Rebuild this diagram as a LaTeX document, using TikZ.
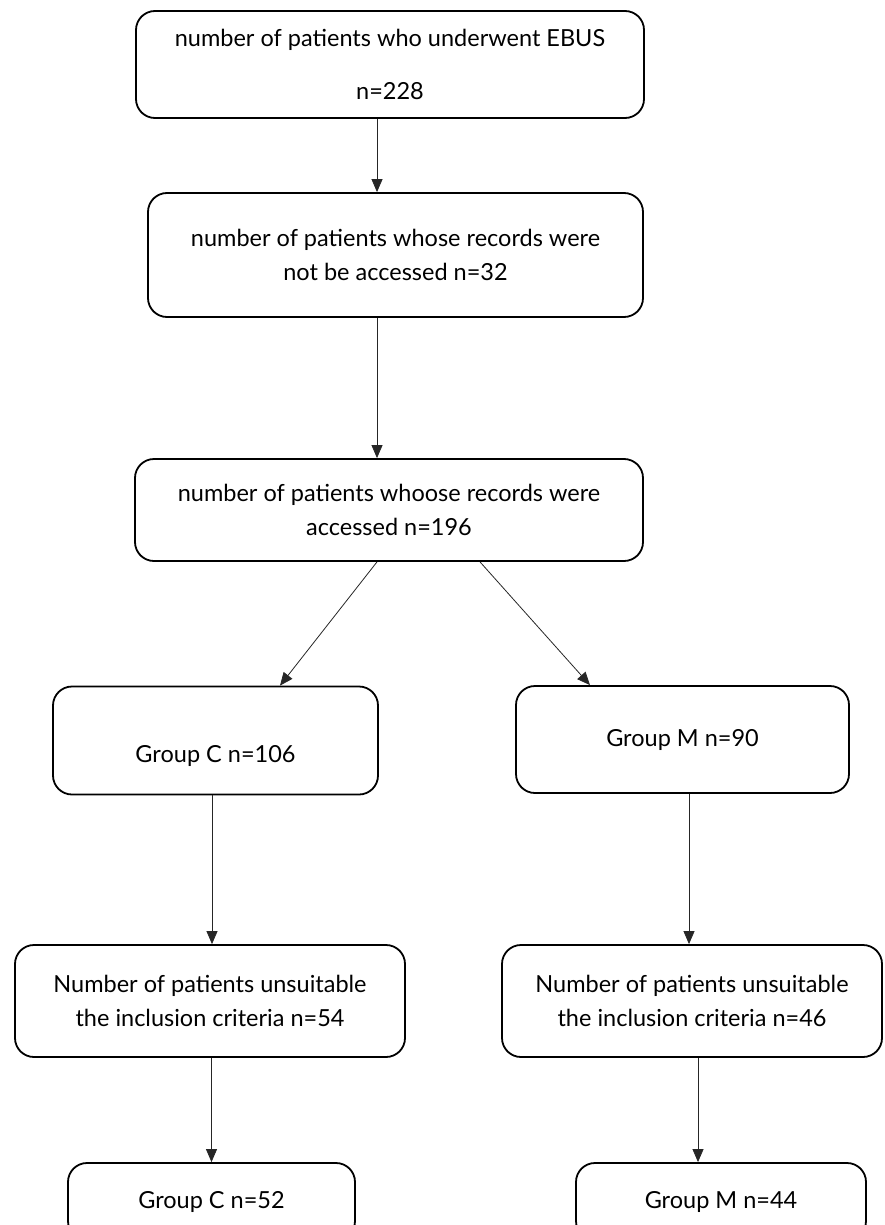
\documentclass[tikz,border=0pt]{standalone}
\usepackage{fontspec}
\setmainfont{Lato}
\usepackage{tikz}
\usetikzlibrary{calc,arrows.meta}

\begin{document}
\begin{tikzpicture}[x=1pt,y=-1pt]
        \tikzstyle{every node}=[font=\fontsize{23.5}{34}\selectfont]
        \tikzstyle{box}=[draw,line width=1.8pt,rounded corners=19pt,align=center,inner sep=0pt]
        \tikzstyle{arr}=[line width=0.8pt,draw=black!85,-{Triangle[length=13pt,width=11pt]}]
        \useasboundingbox (0,0) rectangle (885,1225);

        \node[box,minimum width=508pt,minimum height=107pt] (1) at (390,64.5) {number of patients who underwent EBUS\\[19pt]n=228};
        \node[box,minimum width=495pt,minimum height=124pt] (2) at (395.5,255) {number of patients whose records were\\not be accessed n=32};
        \node[box,minimum width=508pt,minimum height=102pt] (3) at (389,510) {number of patients whoose records were\\accessed n=196};

        \draw[arr] ($(1.south)+(-13,0)$) -- ($(2.north)+(-18.5,0)$);
        \draw[arr] ($(2.south)+(-18.5,0)$) -- ($(3.north)+(-12,0)$);

        \node[box,minimum width=325pt,minimum height=108pt,label={[yshift=-15pt]center:Group C n=106}] (4) at (215.5,740.5) {};
        \node[box,minimum width=333pt,minimum height=107pt] (5) at (682.5,739.5) {Group M n=90};

        \draw[arr] ($(3.south)+(-12,0)$) -- ($(4.north)+(64.5,0)$);
        \draw[arr] ($(3.south)+(91,0)$) -- ($(5.north)+(-92.5,0)$);

        \node[box,minimum width=390pt,minimum height=112pt] (6) at (210,1001) {Number of patients unsuitable\\the inclusion criteria n=54};
        \node[box,minimum width=380pt,minimum height=112pt] (7) at (692,1001) {Number of patients unsuitable\\the inclusion criteria n=46};

        \coordinate (4s) at ($(4.south)+(-3.5,0)$);
        \coordinate (5s) at ($(5.south)+(6.5,0)$);
        \draw[arr] (4s) -- (4s |- 6.north);
        \draw[arr] (5s) -- (5s |- 7.north);

        \node[box,minimum width=287pt,minimum height=77pt] (8) at (211.5,1201.5) {Group C n=52};
        \node[box,minimum width=290pt,minimum height=77pt] (9) at (721,1201.5) {Group M n=44};

        \coordinate (9n) at ($(9.north)+(-23,0)$);
        \draw[arr] (8.north |- 6.south) -- (8.north);
        \draw[arr] (9n |- 7.south) -- (9n);
\end{tikzpicture}
\end{document}
